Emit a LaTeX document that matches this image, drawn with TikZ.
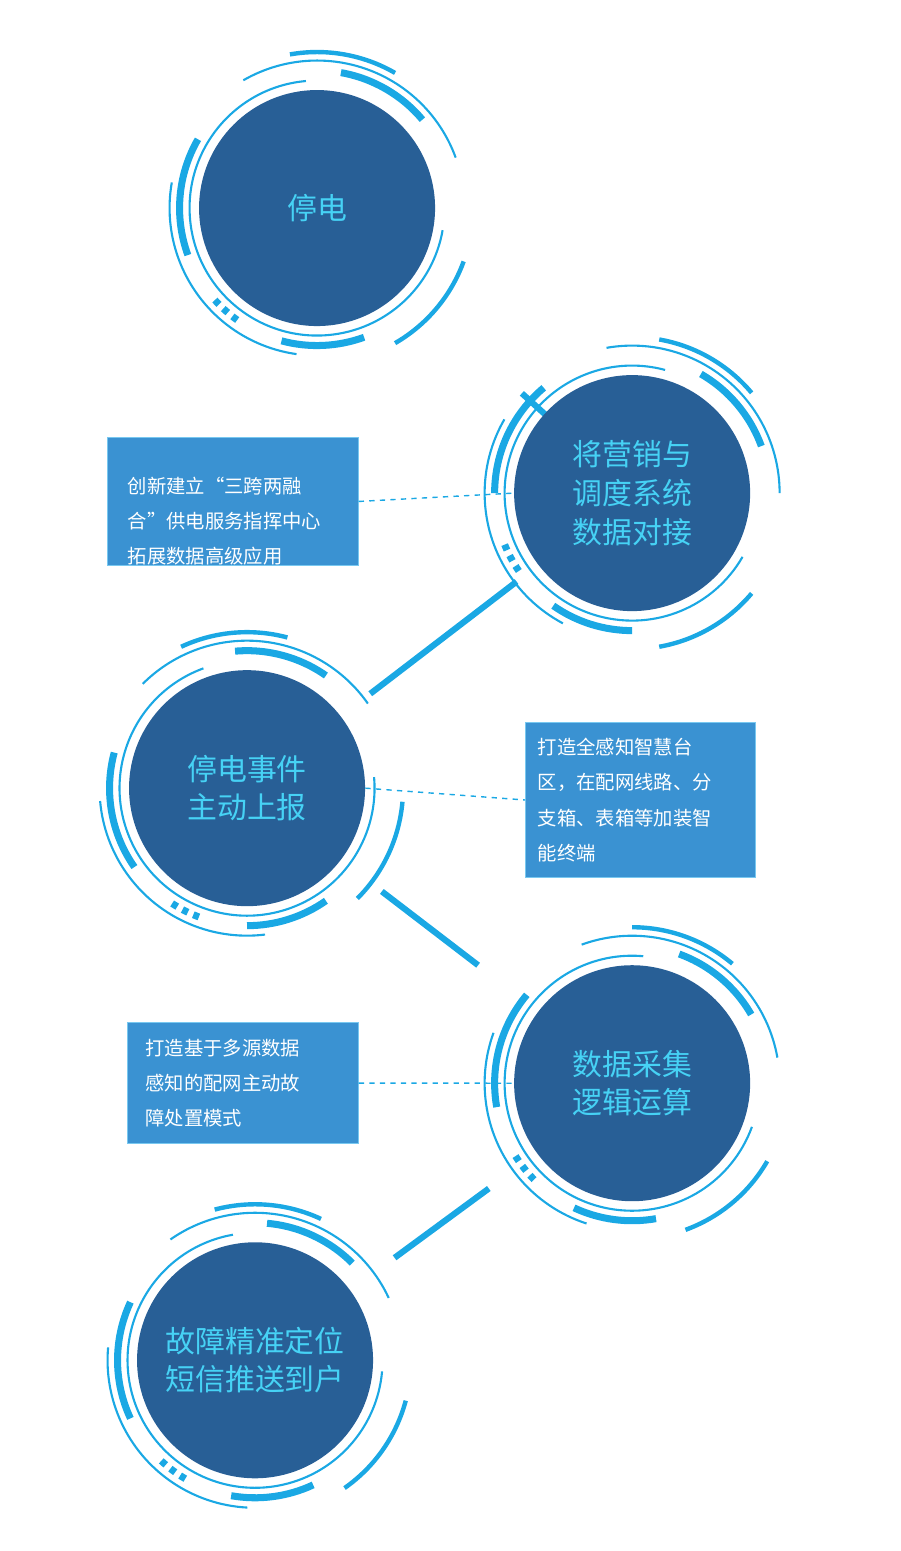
\documentclass[tikz,border=0pt]{standalone}
\usepackage{fontspec}
\setmainfont{Noto Sans CJK SC}
\usetikzlibrary{positioning,calc}
\definecolor{discblue}{RGB}{40, 95, 150}
\definecolor{ringblue}{RGB}{26, 168, 228}
\definecolor{titlecyan}{RGB}{70, 210, 245}
\definecolor{boxblue}{RGB}{58, 146, 210}
\definecolor{boxedge}{RGB}{120, 200, 240}
\newcommand{\ringset}[2]{%
    \begin{scope}[shift={(#1)}, rotate=#2]
        \draw[ringblue, line width=1.2pt] (95:2.55cm) arc[start angle=95, end angle=350, radius=2.55cm];
        \foreach \a/\b in {40/80, 150/200, 255/290}
            \draw[ringblue, line width=4pt] (\a:2.75cm) arc[start angle=\a, end angle=\b, radius=2.75cm];
        \foreach \a/\b in {20/120, 170/262}
            \draw[ringblue, line width=1.2pt] (\a:2.95cm) arc[start angle=\a, end angle=\b, radius=2.95cm];
        \foreach \a/\b in {60/100, 300/340}
            \draw[ringblue, line width=2.5pt] (\a:3.12cm) arc[start angle=\a, end angle=\b, radius=3.12cm];
        \foreach \a in {222, 227, 232}
            \draw[ringblue, line width=4pt] (\a:2.75cm) arc[start angle=\a, end angle=\a+2.5, radius=2.75cm];
    \end{scope}%
}
\begin{document}
\begin{tikzpicture}[
        disc/.style={circle, fill=discblue, minimum size=4.72cm, inner sep=0pt, align=center, text=titlecyan, font=\fontsize{17}{22}\selectfont},
        infobox/.style={draw=boxedge, fill=boxblue, text=white, align=left, anchor=north west, inner sep=0pt, font=\fontsize{11}{20}\selectfont},
        link/.style={ringblue, line width=3.5pt},
        guide/.style={ringblue, dashed, thick}
    ]
    \useasboundingbox (0,0) rectangle (18,-31.02);
    \begin{scope}[x=0.02cm, y=-0.02cm]
        % Discs
        \coordinate (c1) at (317, 208);
        \coordinate (c2) at (632, 493);
        \coordinate (c3) at (247, 788);
        \coordinate (c4) at (632, 1083);
        \coordinate (c5) at (255, 1360);

        % Links between discs
        \draw[link] ($(c1)!0.65!(c2)$) -- ($(c1)!0.9!(c2)$);
        \draw[link] ($(c2)!0.3!(c3)$) -- ($(c2)!0.68!(c3)$);
        \draw[link] ($(c3)!0.35!(c4)$) -- ($(c3)!0.6!(c4)$);
        \draw[link] ($(c4)!0.38!(c5)$) -- ($(c4)!0.63!(c5)$);

        \node[disc] (d1) at (c1) {停电};
        \node[disc] (d2) at (c2) {将营销与\\调度系统\\数据对接};
        \node[disc] (d3) at (c3) {停电事件\\主动上报};
        \node[disc] (d4) at (c4) {数据采集\\逻辑运算};
        \node[disc] (d5) at (c5) {故障精准定位\\短信推送到户};

        \ringset{c1}{0}
        \ringset{c2}{-20}
        \ringset{c3}{15}
        \ringset{c4}{-10}
        \ringset{c5}{5}

        % Info boxes
        \node[infobox, minimum width=5.02cm, minimum height=2.56cm, text width=4.6cm, text depth=0pt] (b1) at (107, 437) {\hspace*{0.2cm}\parbox{4.5cm}{创新建立“三跨两融\\合”供电服务指挥中心\\拓展数据高级应用}};
        \node[infobox, minimum width=4.6cm, minimum height=3.1cm] (b2) at (525, 722) {\hspace*{0.2cm}\parbox{4.3cm}{打造全感知智慧台\\区，在配网线路、分\\支箱、表箱等加装智\\能终端}};
        \node[infobox, minimum width=4.62cm, minimum height=2.42cm] (b3) at (127, 1022) {\hspace*{0.3cm}\parbox{4.2cm}{打造基于多源数据\\感知的配网主动故\\障处置模式}};

        % Dashed guides
        \draw[guide] (b1.east) -- (d2.west);
        \draw[guide] (d3.east) -- (b2.west);
        \draw[guide] (b3.east) -- (d4.west);
    \end{scope}
\end{tikzpicture}
\end{document}
